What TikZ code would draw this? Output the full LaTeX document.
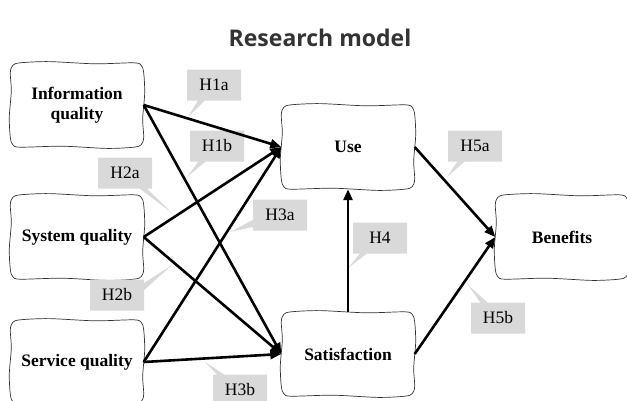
\documentclass[tikz,border=0pt]{standalone}
\usepackage{fontspec}
\setmainfont{Liberation Serif}
\newfontfamily\titlefont{Open Sans}
\usetikzlibrary{arrows.meta,shapes.callouts,calc}

\definecolor{calloutgray}{HTML}{D9D9D9}
\definecolor{titlegray}{HTML}{333333}

\tikzset{
  factor/.style={minimum width=133pt, minimum height=84pt, align=center,
    font=\fontsize{17.5}{20}\selectfont\bfseries},
  frameline/.style={draw=black!80, line width=0.7pt},
  hyp/.style={rectangle callout, fill=calloutgray, inner sep=0pt,
    minimum width=54pt, minimum height=31pt,
    font=\fontsize{17.5}{20}\selectfont},
  path/.style={line width=2.6pt, -{Triangle[length=11pt,width=9pt]}}
}

% hand-drawn looking rounded frame round a node
\newcommand\wavyframe[1]{%
  \draw[frameline] plot[smooth cycle, tension=0.5] coordinates {
    ($(#1.north west)+(10,0)$) ($(#1.north)+(-28,-1.2)$) ($(#1.north)+(18,1)$) ($(#1.north east)+(-10,0)$)
    ($(#1.north east)+(-2.5,2.5)$) ($(#1.north east)+(0,10)$) ($(#1.east)+(1,-12)$) ($(#1.east)+(-1,14)$)
    ($(#1.south east)+(0,-10)$) ($(#1.south east)+(-2.5,-2.5)$) ($(#1.south east)+(-10,0)$)
    ($(#1.south)+(30,1.2)$) ($(#1.south)+(-15,-1)$) ($(#1.south west)+(10,0)$)
    ($(#1.south west)+(2.5,-2.5)$) ($(#1.south west)+(0,-10)$) ($(#1.west)+(-1,12)$) ($(#1.west)+(1,-14)$)
    ($(#1.north west)+(0,10)$) ($(#1.north west)+(2.5,2.5)$)
  };}

\begin{document}
\begin{tikzpicture}[x=1pt,y=-1pt]
  \useasboundingbox (0,0) rectangle (627,400);

  \node[font=\titlefont\fontsize{23}{27}\selectfont\bfseries, text=titlegray] (title) at (320,38) {Research model};

  \node[factor] (info) at (77,105) {Information\\quality};
  \node[factor] (sys) at (77,237) {System quality};
  \node[factor] (serv) at (77,362) {Service quality};
  \node[factor] (use) at (348,147) {Use};
  \node[factor] (sat) at (348,354) {Satisfaction};
  \node[factor] (ben) at (562,237) {Benefits};
  \foreach \n in {info,sys,serv,use,sat,ben}
    \wavyframe{\n};

  % hypotheses
  \node[hyp, callout absolute pointer={(188,117)}] (h1a) at (214,85) {H1a};
  \node[hyp, callout absolute pointer={(187,177)}] (h1b) at (217,146) {H1b};
  \node[hyp, callout absolute pointer={(172,213)}] (h2a) at (125,173) {H2a};
  \node[hyp, callout absolute pointer={(172,265)}] (h2b) at (117,295) {H2b};
  \node[hyp, callout absolute pointer={(230,232)}] (h3a) at (280,215) {H3a};
  \node[hyp, callout absolute pointer={(205,362)}] (h3b) at (240,390) {H3b};
  \node[hyp, callout absolute pointer={(348,268)}] (h4) at (380,238) {H4};
  \node[hyp, callout absolute pointer={(447,177)}] (h5a) at (475,146) {H5a};
  \node[hyp, callout absolute pointer={(468,285)}] (h5b) at (498,318) {H5b};

  \draw[path] (info.east) -- (use.west);
  \draw[path] (info.east) -- (sat.west);
  \draw[path] (sys.east) -- (use.west);
  \draw[path] (sys.east) -- (sat.west);
  \draw[path] (serv.east) -- (use.west);
  \draw[path] (serv.east) -- (sat.west);
  \draw[path] (sat.north) -- (use.south);
  \draw[path] (use.east) -- (ben.west);
  \draw[path] (sat.east) -- (ben.west);
\end{tikzpicture}
\end{document}
